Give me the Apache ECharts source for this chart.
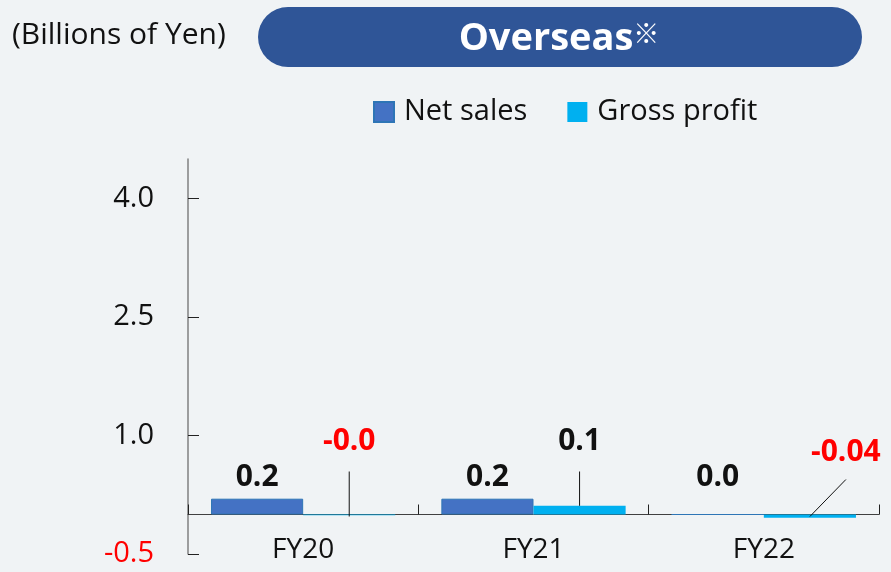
<!DOCTYPE html>
<html><head><meta charset="utf-8">
<script src="https://cdn.jsdelivr.net/npm/echarts@6/dist/echarts.min.js"></script>
<style>html,body{margin:0;padding:0;background:#f0f3f5}#c{width:891px;height:572px}</style>
</head><body><div id="c"></div>
<script>
const categories = ['FY20', 'FY21', 'FY22'];
const netSales = [0.2, 0.2, 0.0];
const grossProfit = [-0.01, 0.11, -0.04];
const netLabels = ['0.2', '0.2', '0.0'];
const grossLabels = ['-0.0', '0.1', '-0.04'];
const yTicks = [-0.5, 1.0, 2.5, 4.0];

const FONT = '"Open Sans", "Noto Sans", sans-serif';
const RED = '#ff0000';
const chart = echarts.init(document.getElementById('c'), null, {renderer: 'canvas'});

const labelData = categories.map((c, i) => [i, netSales[i], grossProfit[i]]);

const option = {
  backgroundColor: '#f0f3f5',
  animation: false,
  grid: {left: 188, right: 12, top: 159, bottom: 18, containLabel: false, outerBoundsMode: 'none'},
  legend: {
    data: ['Net sales', 'Gross profit'],
    left: 373, top: 97, padding: 0,
    icon: 'rect', itemWidth: 20, itemHeight: 20, itemGap: 40,
    textStyle: {fontFamily: FONT, fontSize: 29, color: '#111', lineHeight: 30, padding: [0, 0, 0, 5]}
  },
  graphic: [
    {type: 'text', left: 12, top: 20,
     style: {text: '(Billions of Yen)', fontFamily: FONT, fontSize: 30, fill: '#111'}},
    {type: 'rect', left: 258, top: 7, shape: {width: 604, height: 60, r: 30},
     style: {fill: '#2f5597'}},
    {type: 'text', x: 559, y: 39,
     style: {
       text: '{a|Overseas}{b|※}', align: 'center', verticalAlign: 'middle',
       rich: {
         a: {fontFamily: FONT, fontSize: 38, fontWeight: 'bold', fill: '#fff'},
         b: {fontFamily: '"Noto Sans CJK JP", sans-serif', fontSize: 26, lineHeight: 20, fill: '#fff', verticalAlign: 'top'}
       }
     }}
  ],
  xAxis: {
    type: 'category', data: categories,
    axisLine: {onZero: true, lineStyle: {color: '#404040', width: 1}},
    axisTick: {show: true, inside: true, length: 10, alignWithLabel: false, lineStyle: {color: '#222'}},
    axisLabel: {fontFamily: FONT, fontSize: 28, color: '#111', margin: -18}
  },
  yAxis: {
    type: 'value', min: -0.5, max: 4.5,
    splitLine: {show: false},
    axisLine: {show: true, lineStyle: {color: '#808080', width: 1.5}},
    axisTick: {show: true, inside: true, length: 11, customValues: yTicks, lineStyle: {color: '#222'}},
    axisLabel: {
      customValues: yTicks, margin: 34,
      fontFamily: FONT, fontSize: 29,
      formatter: v => v.toFixed(1),
      color: v => (v < 0 ? RED : '#111')
    }
  },
  series: [
    {
      name: 'Net sales', type: 'bar', data: netSales,
      barWidth: '40%', barGap: '0%',
      itemStyle: {color: '#4472c4', borderColor: '#2e75b6', borderWidth: 1}
    },
    {
      name: 'Gross profit', type: 'bar', data: grossProfit,
      barWidth: '40%', barGap: '0%',
      itemStyle: {color: '#00b0f0'}
    },
    {
      type: 'custom', data: labelData, encode: {x: 0, y: [1, 2]},
      silent: true, z: 10, clip: false,
      renderItem: function (params, api) {
        const i = api.value(0);
        const zero = api.coord([i, 0]);
        const bw = api.size([1, 0])[0];
        const netX = zero[0] - 0.2 * bw;
        const grossX = zero[0] + 0.2 * bw;
        const gVal = api.value(2);
        const gPt = api.coord([i, gVal]);
        const shifted = i === 2;
        const lx = shifted ? grossX + 36 : grossX;
        const ly = shifted ? zero[1] - 62 : zero[1] - 73;
        const lineEndY = shifted ? zero[1] - 35 : zero[1] - 43;
        const lineStartY = gVal >= 0 ? gPt[1] : zero[1] + 2;
        return {
          type: 'group',
          children: [
            {type: 'text', style: {
              text: netLabels[i], x: netX, y: zero[1] - 37,
              align: 'center', verticalAlign: 'middle',
              fontFamily: FONT, fontSize: 30, fontWeight: 'bold',
              fill: api.value(1) < 0 ? RED : '#111'}},
            {type: 'line', shape: {x1: grossX, y1: lineStartY, x2: lx, y2: lineEndY},
             style: {stroke: '#111', lineWidth: 1}},
            {type: 'text', style: {
              text: grossLabels[i], x: lx, y: ly,
              align: 'center', verticalAlign: 'middle',
              fontFamily: FONT, fontSize: 30, fontWeight: 'bold',
              fill: gVal < 0 ? RED : '#111'}}
          ]
        };
      }
    }
  ]
};
chart.setOption(option);
</script>
</body></html>
